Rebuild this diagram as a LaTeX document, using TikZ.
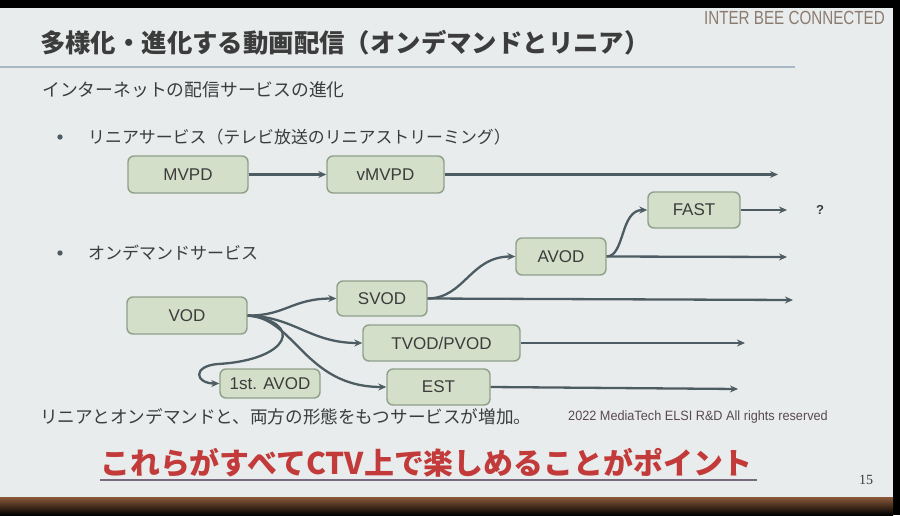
\documentclass[tikz,border=0pt]{standalone}
\usepackage{fontspec}
\setmainfont{Noto Sans CJK JP}
\newfontfamily\lat{Liberation Sans}
\newfontfamily\latserif{Liberation Serif}
\usetikzlibrary{arrows.meta}
\definecolor{slidebg}{HTML}{E8ECEC}
\definecolor{boxfill}{HTML}{D3DFC9}
\definecolor{boxline}{HTML}{8FA08A}
\definecolor{arrowc}{HTML}{4D5C62}
\definecolor{txt}{HTML}{3C3C3C}
\definecolor{redtxt}{HTML}{C23A3A}
\definecolor{rulec}{HTML}{A9B9C3}
\definecolor{ibc}{HTML}{8C7B70}
\definecolor{copyc}{HTML}{5A4A50}
\definecolor{ulc}{HTML}{7A6A80}
\definecolor{brownc}{HTML}{8A5A3A}
\tikzset{
  svc/.style={draw=boxline, line width=1.4pt, fill=boxfill, rounded corners=6pt,
    text=txt, font=\lat\fontsize{17}{18}\selectfont, inner sep=0pt, align=center},
  flow/.style={draw=arrowc, line width=2.3pt, -{Stealth[length=8pt,width=7pt]}},
  jtext/.style={text=txt, anchor=west, inner sep=0pt},
}
\begin{document}
\begin{tikzpicture}[x=1pt,y=-1pt]
\useasboundingbox (0,0) rectangle (900,515);
% background
\fill[black] (0,0) rectangle (900,515);
\fill[slidebg] (0,8) rectangle (893,497);
\shade[top color=brownc, bottom color=black] (0,497) rectangle (893,515);
% header
\node[anchor=west, inner sep=0pt, text=txt] (title) at (40,43)
  {\fontsize{25.4}{28}\selectfont\bfseries 多様化・進化する動画配信（オンデマンドとリニア）};
\node[anchor=east, inner sep=0pt, text=ibc] (ibc) at (885,18)
  {\scalebox{0.8}[1]{\lat\fontsize{19}{20}\selectfont INTER BEE CONNECTED}};
\coordinate (ruleL) at (0,67);
\coordinate (ruleR) at (795,67);
\draw[rulec, line width=2pt] (ruleL) -- (ruleR);
\node[jtext] (sub) at (42,90) {\fontsize{17.8}{19}\selectfont インターネットの配信サービスの進化};
% bullets
\fill[arrowc] (60,137) circle (2.7);
\node[jtext] (lin) at (88,137) {\fontsize{16.9}{19}\selectfont リニアサービス（テレビ放送のリニアストリーミング）};
\fill[arrowc] (60,253) circle (2.7);
\node[jtext] (ond) at (88,253) {\fontsize{17}{19}\selectfont オンデマンドサービス};
% boxes
\node[svc, minimum width=120pt, minimum height=37pt] (mvpd) at (188,174.5) {MVPD};
\node[svc, minimum width=117pt, minimum height=37pt] (vmvpd) at (385.5,174.5) {vMVPD};
\node[svc, minimum width=92pt, minimum height=36pt] (fast) at (694,210) {FAST};
\node[svc, minimum width=90pt, minimum height=37pt] (avod) at (561,256.5) {AVOD};
\node[svc, minimum width=90pt, minimum height=35pt] (svod) at (382,298.5) {SVOD};
\node[svc, minimum width=120pt, minimum height=37pt] (vod) at (187,315.5) {VOD};
\node[svc, minimum width=157pt, minimum height=36pt] (tvod) at (441.5,343) {TVOD/PVOD};
\node[svc, minimum width=103pt, minimum height=36pt] (est) at (438.5,387) {EST};
\node[svc, minimum width=100pt, minimum height=29pt] (avod1) at (270,383.5) {1st. AVOD};
% end points
\coordinate (e1) at (778,174.5);
\coordinate (efast) at (787,210);
\coordinate (eavod) at (787,257);
\coordinate (esvod) at (793,300);
\coordinate (etvod) at (745,343);
\coordinate (eest) at (738,389);
% connectors
\draw[flow] (mvpd) -- (vmvpd);
\draw[flow] (vmvpd.east) -- (e1);
\draw[flow] (fast.east) -- (efast);
\draw[flow] (avod.east) -- (eavod);
\draw[flow] (avod.east) .. controls (625,256) and (620,210) .. (fast.west);
\draw[flow] (svod.east) -- (esvod);
\draw[flow] (svod.east) .. controls (465,298) and (470,256.5) .. (avod.west);
\draw[flow] (tvod.east) -- (etvod);
\draw[flow] (est.east) -- (eest);
\draw[flow] (vod.east) .. controls (285,316) and (292,298.5) .. (svod.west);
\draw[flow] (vod.east) .. controls (295,317) and (310,343) .. (tvod.west);
\draw[flow] (vod.east) .. controls (295,318) and (305,387) .. (est.west);
\draw[flow] (vod.east) .. controls (305,322) and (290,360) .. (218,364)
   .. controls (192,366) and (195,383.5) .. (avod1.west);
\node[text=txt, inner sep=0pt] (q) at (820,210) {\lat\bfseries\fontsize{13}{14}\selectfont ?};
% bottom texts
\node[jtext] (both) at (40,417) {\fontsize{17.6}{19}\selectfont リニアとオンデマンドと、両方の形態をもつサービスが増加。};
\node[anchor=west, inner sep=0pt, text=copyc] (copy) at (568,417)
  {\scalebox{0.94}[1]{\lat\fontsize{13.5}{14}\selectfont 2022 MediaTech ELSI R\&D All rights reserved}};
\node[anchor=west, inner sep=0pt, text=redtxt] (point) at (100,463)
  {\fontsize{29.9}{32}\selectfont\bfseries これらがすべてCTV上で楽しめることがポイント};
\coordinate (ulL) at (100,480);
\coordinate (ulR) at (757,480);
\draw[ulc, line width=2pt] (ulL) -- (ulR);
\node[inner sep=0pt, text=txt] (pg) at (866,480) {\latserif\fontsize{14}{15}\selectfont 15};
\end{tikzpicture}
\end{document}
